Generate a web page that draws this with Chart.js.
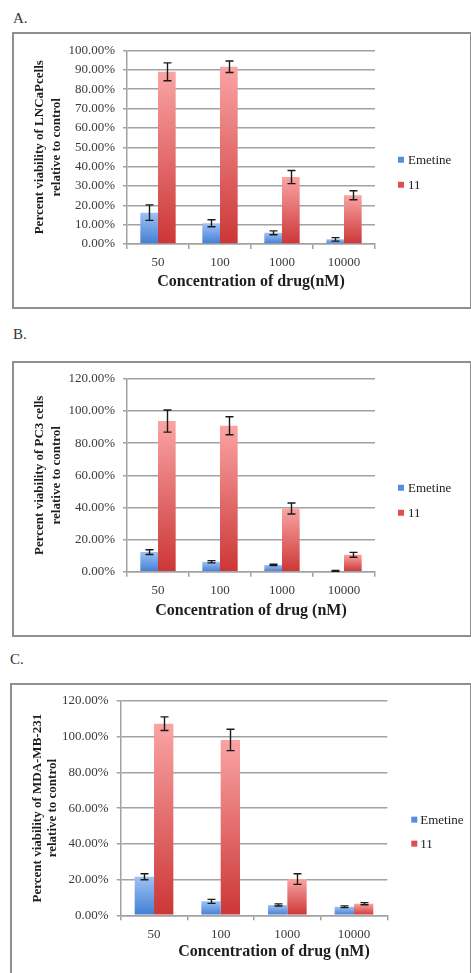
<!DOCTYPE html>
<html><head><meta charset="utf-8">
<script src="https://cdn.jsdelivr.net/npm/chart.js@4.4.1/dist/chart.umd.min.js"></script>
<style>
html,body{margin:0;padding:0;background:#fff;overflow:hidden;width:471px;height:973px;}
.lbl{position:absolute;font-family:"Liberation Serif",serif;font-size:15px;line-height:15px;color:#333;}
.box{position:absolute;border:2px solid #8f8f8f;box-sizing:border-box;}
canvas{position:absolute;}
</style></head><body>
<div class="lbl" style="left:13px;top:11px">A.</div>
<div class="box" style="left:12px;top:32px;width:460px;height:277px"></div>
<canvas id="cA" width="456" height="273" style="left:14px;top:34px"></canvas>

<div class="lbl" style="left:13px;top:327px">B.</div>
<div class="box" style="left:12px;top:361px;width:460px;height:276px"></div>
<canvas id="cB" width="456" height="272" style="left:14px;top:363px"></canvas>

<div class="lbl" style="left:10px;top:652px">C.</div>
<div class="box" style="left:10px;top:683px;width:462px;height:300px"></div>
<canvas id="cC" width="459" height="288" style="left:12px;top:685px"></canvas>

<script>
// ---- data ----
const categories = ['50', '100', '1000', '10000'];
const seriesNames = ['Emetine', '11'];

const A_emetine    = [16.2, 10.7, 5.8, 2.4];
const A_emetineErr = [4.0, 1.8, 1.0, 0.9];
const A_cmpd11     = [89.0, 91.6, 34.6, 25.2];
const A_cmpd11Err  = [4.6, 3.0, 3.4, 2.3];

const B_emetine    = [12.2, 6.2, 4.2, 0.5];
const B_emetineErr = [1.5, 0.7, 0.4, 0.2];
const B_cmpd11     = [93.7, 90.8, 39.3, 10.5];
const B_cmpd11Err  = [6.9, 5.6, 3.4, 1.5];

const C_emetine    = [21.6, 7.8, 5.8, 4.8];
const C_emetineErr = [1.7, 1.1, 0.6, 0.5];
const C_cmpd11     = [107.3, 98.2, 20.3, 6.5];
const C_cmpd11Err  = [3.8, 6.0, 3.0, 0.6];

const A_yRange = [0, 100, 10];
const B_yRange = [0, 120, 20];
const C_yRange = [0, 120, 20];

const A_yTitle = ['Percent viability of LNCaPcells', 'relative to control'];
const B_yTitle = ['Percent viability of PC3 cells', 'relative to control'];
const C_yTitle = ['Percent viability of MDA-MB-231', 'relative to control'];
const A_xTitle = 'Concentration of drug(nM)';
const B_xTitle = 'Concentration of drug (nM)';
const C_xTitle = '          Concentration of drug (nM)';

// ---- styling ----
const FONT = '"Liberation Serif", "Times New Roman", serif';
const GRID = '#a2a2a2';
const gradStops = [
  ['rgb(158,194,244)', 'rgb(66,126,212)'],
  ['rgb(250,164,164)', 'rgb(204,54,54)']
];
const legendColors = ['rgb(84,142,226)', 'rgb(226,78,78)'];

function gradFill(idx) {
  return function (ctx) {
    const chart = ctx.chart;
    if (ctx.type !== 'data' || !chart.chartArea) return legendColors[idx];
    const y = chart.scales.y;
    const top = y.getPixelForValue(ctx.raw);
    const bot = y.getPixelForValue(0);
    if (!isFinite(top) || Math.abs(bot - top) < 0.5) return gradStops[idx][1];
    const g = chart.ctx.createLinearGradient(0, top, 0, bot);
    g.addColorStop(0, gradStops[idx][0]);
    g.addColorStop(1, gradStops[idx][1]);
    return g;
  };
}

const errorBarPlugin = {
  id: 'errorBars',
  afterDatasetsDraw(chart) {
    const ctx = chart.ctx;
    const y = chart.scales.y;
    ctx.save();
    ctx.strokeStyle = '#1a1a1a';
    ctx.lineWidth = 1.4;
    chart.data.datasets.forEach((ds, i) => {
      const meta = chart.getDatasetMeta(i);
      meta.data.forEach((el, j) => {
        const v = ds.data[j], e = ds.errors[j];
        const x = Math.round(el.x) + 0.5;
        const yt = y.getPixelForValue(v + e);
        const yb = y.getPixelForValue(Math.max(v - e, 0));
        ctx.beginPath();
        ctx.moveTo(x, yt); ctx.lineTo(x, yb);
        ctx.moveTo(x - 4, yt); ctx.lineTo(x + 4, yt);
        ctx.moveTo(x - 4, yb); ctx.lineTo(x + 4, yb);
        ctx.stroke();
      });
    });
    ctx.restore();
  }
};

const sideLegendPlugin = {
  id: 'sideLegend',
  afterDraw(chart, args, opts) {
    const ctx = chart.ctx;
    const ca = chart.chartArea;
    const mid = (ca.top + ca.bottom) / 2;
    ctx.save();
    ctx.font = '13px ' + FONT;
    ctx.textBaseline = 'middle';
    ctx.textAlign = 'left';
    chart.data.datasets.forEach((ds, i) => {
      const yc = mid + opts.dy + i * opts.step;
      const x = ca.right + opts.dx;
      ctx.fillStyle = legendColors[i];
      ctx.fillRect(x, yc - 3.5, 6, 6);
      ctx.fillStyle = '#222';
      ctx.fillText(ds.label, x + opts.tx, yc);
    });
    ctx.restore();
  }
};

function makePanel(p) {
  new Chart(document.getElementById(p.id), {
    type: 'bar',
    data: {
      labels: categories,
      datasets: [
        { label: seriesNames[0], data: p.emet, errors: p.emetErr, backgroundColor: gradFill(0), yAxisID: 'y' },
        { label: seriesNames[1], data: p.c11, errors: p.c11Err, backgroundColor: gradFill(1), yAxisID: 'y' }
      ]
    },
    options: {
      responsive: false,
      animation: false,
      devicePixelRatio: 1,
      datasets: { bar: { categoryPercentage: p.catPct, barPercentage: 1.0, borderWidth: 0 } },
      layout: { padding: p.pad },
      plugins: {
        legend: { display: false },
        tooltip: { enabled: false },
        sideLegend: p.legend
      },
      scales: {
        x: {
          grid: { display: true, drawOnChartArea: false, drawTicks: true, tickLength: 5, color: GRID, lineWidth: 1.5, offset: true },
          border: { display: true, color: GRID, width: 1.5 },
          ticks: { color: '#3a3a3a', padding: 6, font: { family: FONT, size: 13 } },
          title: { display: true, text: p.xTitle, color: '#1e1e1e', padding: 0, font: { family: FONT, size: 16, weight: 'bold', lineHeight: 1.2 } },
          afterFit: s => { s.height = p.xHeight; }
        },
        y: {
          min: p.yRange[0], max: p.yRange[1],
          grid: { color: GRID, lineWidth: 1.5, tickLength: 4, drawTicks: true },
          border: { display: true, color: GRID, width: 1.5 },
          ticks: { stepSize: p.yRange[2], color: '#3a3a3a', padding: 8, font: { family: FONT, size: 13 },
                   callback: v => v.toFixed(2) + '%' },
          title: { display: true, text: p.yTitle, color: '#1e1e1e', padding: { top: p.yTitlePad, bottom: 0 },
                   font: { family: FONT, size: 13, weight: 'bold', lineHeight: p.yTitleLH / 13 } },
          afterFit: s => { s.width = p.yWidth; }
        }
      }
    },
    plugins: [errorBarPlugin, sideLegendPlugin]
  });
}

makePanel({ id: 'cA', emet: A_emetine, emetErr: A_emetineErr, c11: A_cmpd11, c11Err: A_cmpd11Err,
  yRange: A_yRange, yTitle: A_yTitle, xTitle: A_xTitle, catPct: 0.57,
  pad: { left: 0, top: 16.5, right: 95, bottom: 15.4 }, yWidth: 113, xHeight: 47.6,
  yTitlePad: 17.75, yTitleLH: 16.5, legend: { dx: 23, tx: 10, dy: 13, step: 25 } });

makePanel({ id: 'cB', emet: B_emetine, emetErr: B_emetineErr, c11: B_cmpd11, c11Err: B_cmpd11Err,
  yRange: B_yRange, yTitle: B_yTitle, xTitle: B_xTitle, catPct: 0.57,
  pad: { left: 0, top: 15.3, right: 95, bottom: 14.7 }, yWidth: 113, xHeight: 48.6,
  yTitlePad: 17.75, yTitleLH: 16.5, legend: { dx: 23, tx: 10, dy: 13, step: 25 } });

makePanel({ id: 'cC', emet: C_emetine, emetErr: C_emetineErr, c11: C_cmpd11, c11Err: C_cmpd11Err,
  yRange: C_yRange, yTitle: C_yTitle, xTitle: C_xTitle, catPct: 0.58,
  pad: { left: 0, top: 16, right: 83.7, bottom: 11.7 }, yWidth: 108.7, xHeight: 46,
  yTitlePad: 17.8, yTitleLH: 15, legend: { dx: 24, tx: 9, dy: 12, step: 24 } });
</script>
</body></html>
